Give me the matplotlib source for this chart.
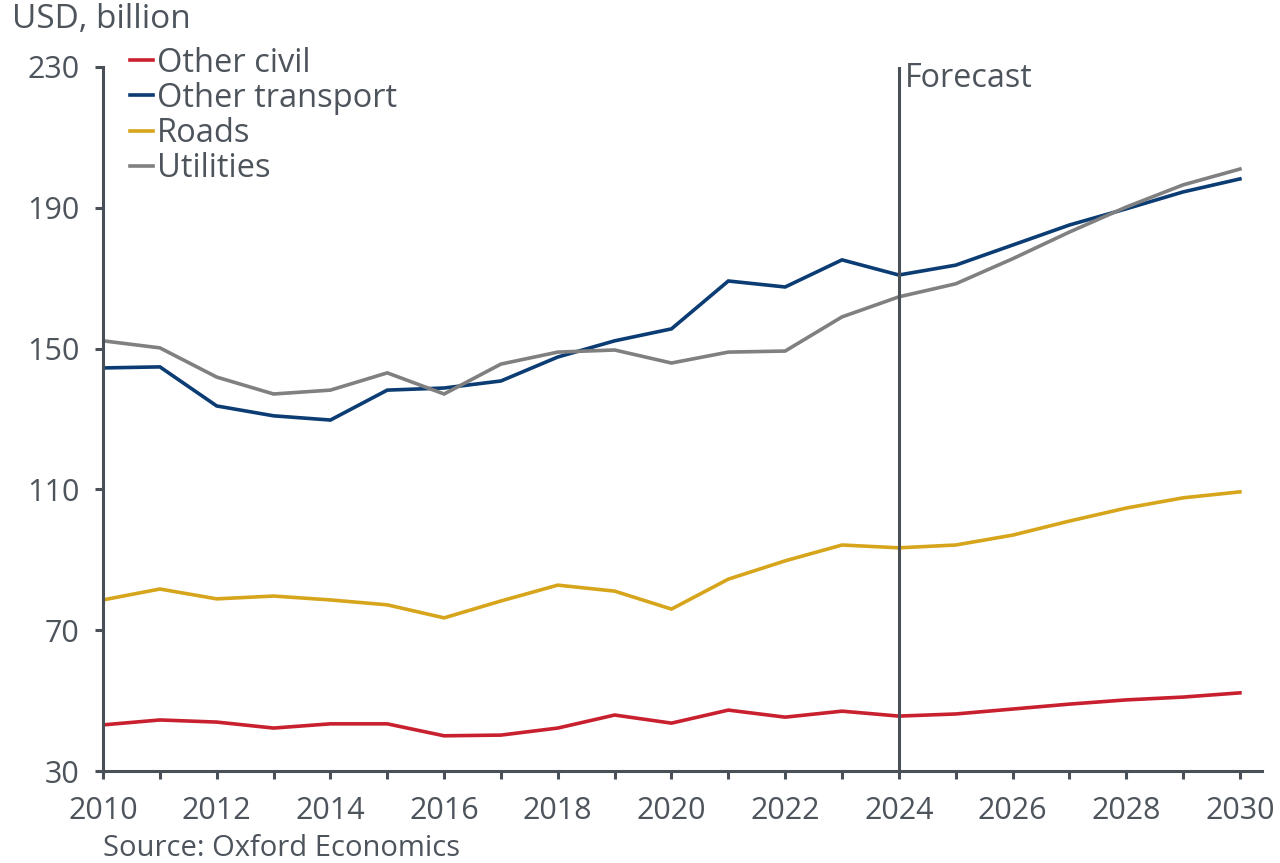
import matplotlib
matplotlib.use("Agg")
import matplotlib.pyplot as plt

years = list(range(2010, 2031))
other_civil = [43.1, 44.5, 43.9, 42.2, 43.4, 43.4, 40.0, 40.2, 42.2, 45.9, 43.6,
               47.3, 45.3, 47.0, 45.6, 46.2, 47.6, 49.0, 50.2, 51.0, 52.2]
other_transport = [144.5, 144.8, 133.7, 130.9, 129.7, 138.2, 138.8, 140.8, 147.6, 152.2, 155.6,
                   169.2, 167.5, 175.2, 170.9, 173.7, 179.4, 185.1, 189.7, 194.5, 198.2]
roads = [78.6, 81.7, 78.9, 79.7, 78.6, 77.2, 73.5, 78.3, 82.8, 81.1, 76.0,
         84.5, 89.7, 94.2, 93.4, 94.2, 97.0, 101.0, 104.7, 107.6, 109.3]
utilities = [152.2, 150.2, 141.9, 137.1, 138.2, 143.1, 137.1, 145.6, 149.0, 149.6, 145.9,
             149.0, 149.3, 159.0, 164.7, 168.4, 175.5, 183.1, 190.2, 196.5, 201.0]
series_names = ["Other civil", "Other transport", "Roads", "Utilities"]
y_ticks = [30, 70, 110, 150, 190, 230]
x_ticks = list(range(2010, 2031, 2))
forecast_year = 2024

plt.rcParams['font.family'] = ['Open Sans', 'DejaVu Sans']
txt = '#4d545c'
axc = '#4a5058'

fig = plt.figure(figsize=(12.8, 8.63), dpi=100)
ax = fig.add_axes([0.0805, 0.1066, 0.986 - 0.0805, 0.9224 - 0.1066])

colors = ['#c8202f', '#0b3c73', '#d6a51c', '#808080']
for name, vals, c in zip(series_names, [other_civil, other_transport, roads, utilities], colors):
    ax.plot(years, vals, color=c, lw=2.6, label=name, solid_joinstyle='miter')

ax.axvline(forecast_year, color=axc, lw=2.2, zorder=5)
ax.text(forecast_year + 0.1, 226.6, "Forecast", fontsize=23.3, color=txt, va='center', ha='left')

ax.set_xlim(2010, 2030.39)
ax.set_ylim(30, 230)
ax.set_yticks(y_ticks)
ax.set_xticks(years, minor=False)
ax.set_xticklabels([str(y) if y in x_ticks else '' for y in years])
for s in ['top', 'right']:
    ax.spines[s].set_visible(False)
for s in ['left', 'bottom']:
    ax.spines[s].set_color(axc)
    ax.spines[s].set_linewidth(2.2)
ax.tick_params(axis='both', colors=axc, width=2.2, length=6, labelsize=22, labelcolor=txt)
ax.tick_params(axis='x', pad=12)
ax.tick_params(axis='y', pad=11)

leg = fig.legend(loc='upper left', bbox_to_anchor=(130 / 1280, 1 - 46.5 / 863), frameon=False,
                 fontsize=23.5, handlelength=0.7, handletextpad=0.12, labelspacing=0.07,
                 borderaxespad=0, borderpad=0)
for t in leg.get_texts():
    t.set_color(txt)

fig.text(12 / 1280, 1 - 20 / 863, "USD, billion", fontsize=24, color=txt, ha='left', va='center')
fig.text(103 / 1280, 1 - 848 / 863, "Source: Oxford Economics", fontsize=21, color=txt,
         ha='left', va='center')

fig.savefig('out.png', dpi=100)
